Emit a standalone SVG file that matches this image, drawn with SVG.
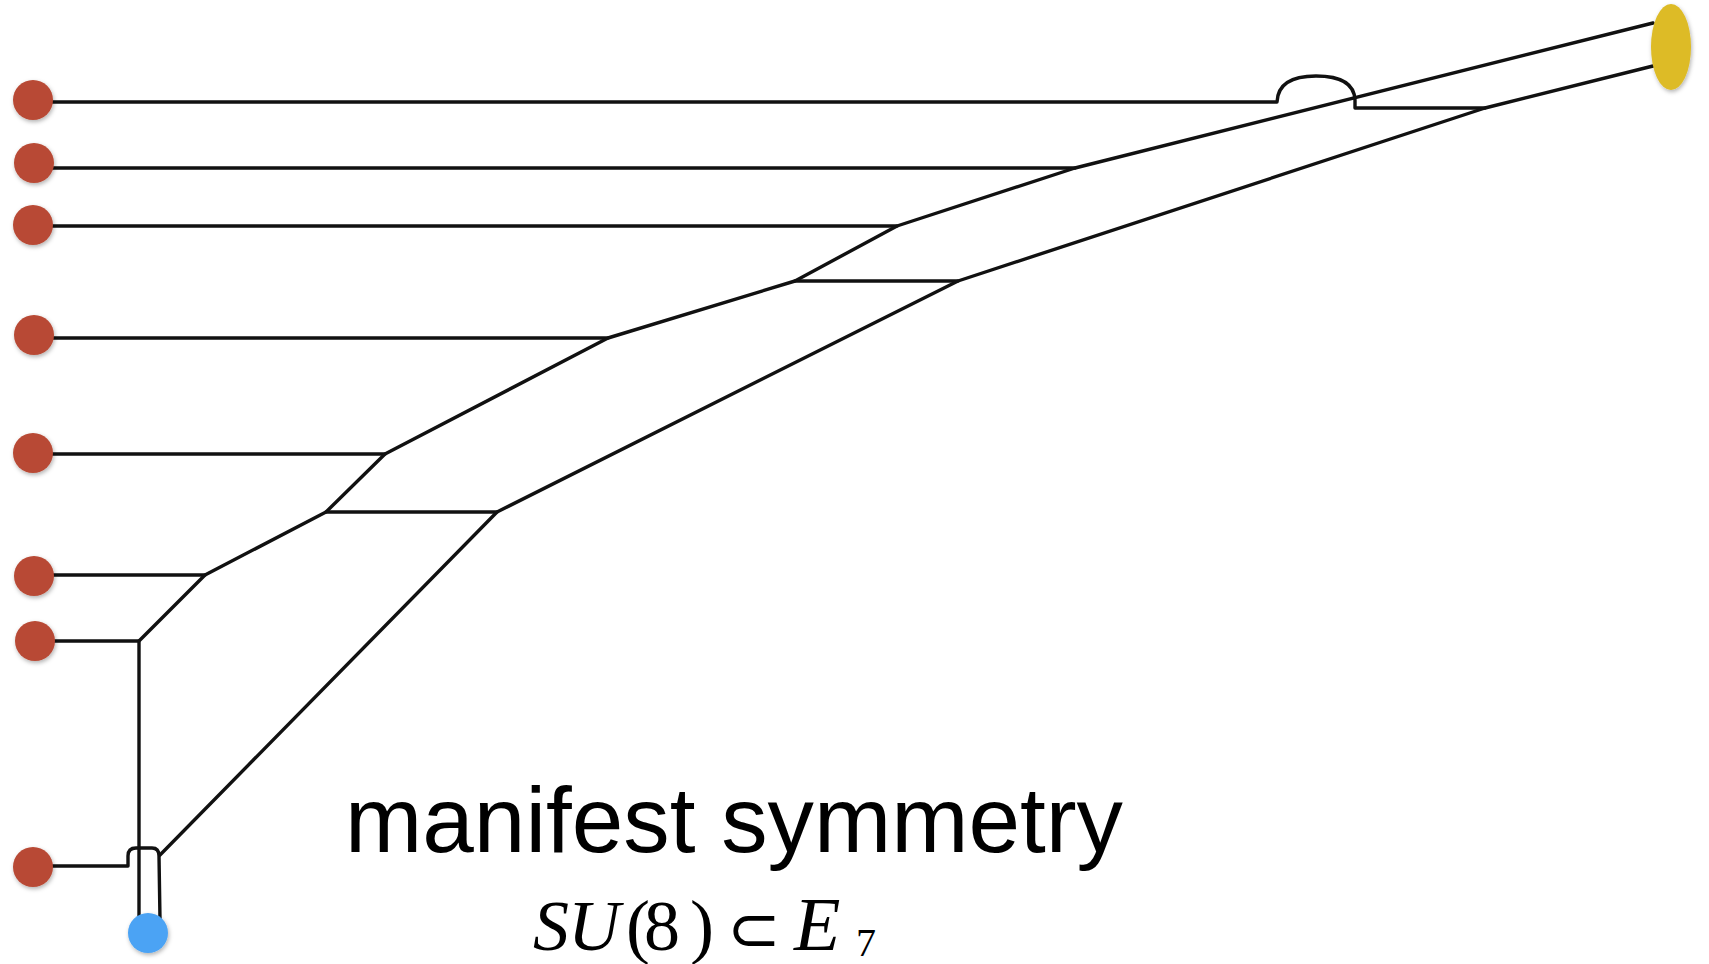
<svg xmlns="http://www.w3.org/2000/svg" width="1709" height="964" viewBox="0 0 1709 964">
<defs>
<filter id="sh" x="-30%" y="-30%" width="160%" height="170%">
<feDropShadow dx="1" dy="2" stdDeviation="2" flood-color="#000" flood-opacity="0.3"/>
</filter>
<style>
.ln{fill:none;stroke:#111;stroke-width:3.4;stroke-linejoin:round;stroke-linecap:round}
.red{fill:#B84A35;filter:url(#sh)}
.lbl{font-family:"Liberation Sans",Arial,sans-serif;font-size:93px;fill:#000}
.math{font-family:"Liberation Serif","Times New Roman",serif;font-size:72px;fill:#000}
.it{font-style:italic}
</style>
</defs>
<rect width="1709" height="964" fill="#fff"/>
<g id="connectors">
<path class="ln" d="M33,102 L1277,102 Q1278,76 1316,76 Q1354,76 1355,100 L1355,108 L1485,108"/>
<path class="ln" d="M33,168 L1075,168"/>
<path class="ln" d="M33,226 L897,226"/>
<path class="ln" d="M33,338 L608,338"/>
<path class="ln" d="M33,454 L385,454"/>
<path class="ln" d="M33,575 L205,575"/>
<path class="ln" d="M33,641 L139,641"/>
<path class="ln" d="M33,866 L128,866 L128,856 Q128,848 136,848 L152,848 Q159,848 159,856 L160,920"/>
<path class="ln" d="M139,920 L139,641 L205,575 L326,512 L385,454 L608,338 L795,281 L897,226 L1075,168 L1653,23"/>
<path class="ln" d="M160,855 L497,512 L958,281 L1485,108 L1653,66"/>
<path class="ln" d="M795,281 L958,281"/>
<path class="ln" d="M326,512 L497,512"/>
</g>
<g id="n1"><circle class="red" cx="33" cy="100" r="20"/></g>
<g id="n2"><circle class="red" cx="34" cy="163" r="20"/></g>
<g id="n3"><circle class="red" cx="33" cy="225" r="20"/></g>
<g id="n4"><circle class="red" cx="34" cy="335" r="20"/></g>
<g id="n5"><circle class="red" cx="33" cy="453" r="20"/></g>
<g id="n6"><circle class="red" cx="34" cy="576" r="20"/></g>
<g id="n7"><circle class="red" cx="35" cy="641" r="20"/></g>
<g id="n8"><circle class="red" cx="33" cy="867" r="20"/></g>
<g id="blue"><circle cx="148" cy="933" r="20" fill="#4BA3F4" filter="url(#sh)"/></g>
<g id="yellow"><ellipse cx="1671" cy="47" rx="20" ry="43" fill="#DDBB26" filter="url(#sh)"/></g>
<g id="label">
<text class="lbl" x="345" y="852" textLength="778" lengthAdjust="spacingAndGlyphs">manifest symmetry</text>
</g>
<g id="formula">
<text class="math" y="950"><tspan class="it" x="533">S</tspan><tspan class="it" x="568">U</tspan><tspan x="626">(</tspan><tspan x="644">8</tspan><tspan x="690">)</tspan><tspan x="727" y="951" style="font-size:64px">⊂</tspan><tspan class="it" x="794" y="950" style="font-size:76px">E</tspan><tspan x="856" y="956" style="font-size:40px">7</tspan></text>
</g>
</svg>
